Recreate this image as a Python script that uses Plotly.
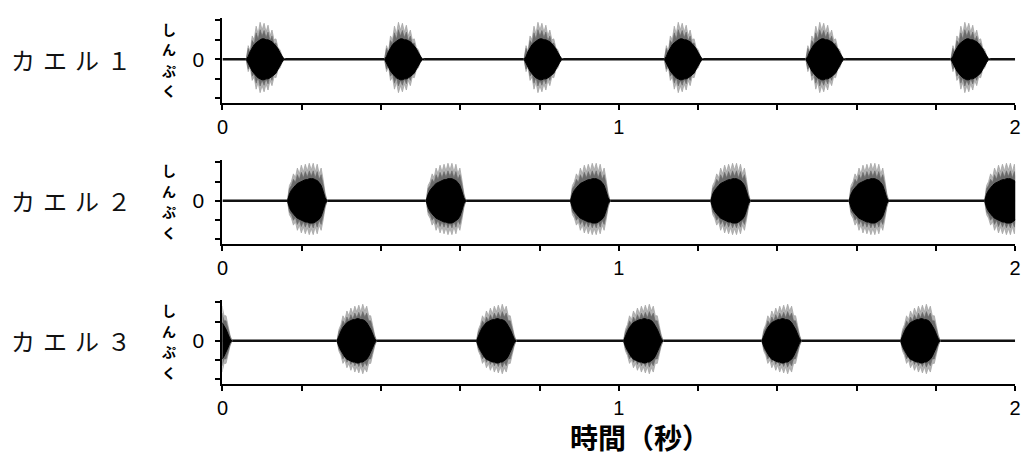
import plotly.graph_objects as go

# ---------------- data ----------------
frog_labels = ["カエル１", "カエル２", "カエル３"]
amp_label = ["し", "ん", "ぷ", "く"]
x_title = "時間（秒）"
x_tick_values = [0, 1, 2]
x_tick_labels = ["0", "1", "2"]
y_tick_values = [0]
y_tick_labels = ["0"]

# centre time (s) of each call burst, per frog
burst_times_1 = [0.110, 0.459, 0.811, 1.165, 1.522, 1.888]
burst_times_2 = [0.214, 0.564, 0.928, 1.282, 1.631, 1.973]
burst_times_3 = [-0.026, 0.339, 0.691, 1.062, 1.411, 1.761]

# envelope sample offsets from the burst centre (s)
env_offsets = [-0.050, -0.045, -0.040, -0.035, -0.030, -0.025, -0.020,
               -0.015, -0.010, -0.005, 0.000, 0.005, 0.010, 0.015,
               0.020, 0.025, 0.030, 0.035, 0.040, 0.045, 0.050]

# amplitude envelopes (outer = grey spike tips, core = dense black part)
outer_1 = [0.0, 0.7, 0.4, 1.2, 1.0, 1.7, 1.3, 1.9, 1.5, 1.85, 1.4,
           1.75, 1.2, 1.5, 1.0, 1.05, 0.6, 0.5, 0.2, 0.05, 0.0]
core_1 = [0.0, 0.15, 0.4, 0.6, 0.75, 0.85, 0.95, 1.0, 1.05, 1.05, 1.0,
          1.0, 0.95, 0.9, 0.8, 0.7, 0.55, 0.35, 0.15, 0.0, 0.0]
outer_2 = [0.0, 0.8, 1.0, 1.4, 1.2, 1.7, 1.4, 1.85, 1.5, 1.9, 1.55,
           1.95, 1.6, 1.95, 1.5, 1.9, 1.4, 1.7, 1.1, 0.4, 0.0]
core_2 = [0.0, 0.35, 0.55, 0.7, 0.8, 0.9, 0.95, 1.0, 1.05, 1.1, 1.1,
          1.15, 1.15, 1.15, 1.1, 1.05, 0.95, 0.8, 0.5, 0.15, 0.0]
outer_3 = [0.0, 0.6, 0.85, 1.3, 1.1, 1.55, 1.3, 1.7, 1.4, 1.8, 1.5,
           1.85, 1.5, 1.9, 1.55, 1.8, 1.3, 1.3, 0.8, 0.3, 0.0]
core_3 = [0.0, 0.3, 0.5, 0.7, 0.85, 0.95, 1.0, 1.05, 1.1, 1.1, 1.15,
          1.15, 1.1, 1.1, 1.05, 0.95, 0.8, 0.6, 0.35, 0.1, 0.0]

x_range = [0, 2]
y_range = [-2.24, 2.12]

# ---------------- styling ----------------
W, H = 1034, 458
JP = "Noto Sans CJK JP"
NUM = "Liberation Sans, Arial, sans-serif"
x_left_px, x_right_px = 219, 1021
panel_px = [(18, 103), (160, 244), (300, 384)]   # (top, bottom) of each panel in px
lower_scale = 0.9
mid_scale = 0.8
amp_pitch_px = 20.5

fig = go.Figure()

frogs = [
    (burst_times_1, outer_1, core_1),
    (burst_times_2, outer_2, core_2),
    (burst_times_3, outer_3, core_3),
]

def envelope(t, amps, scale_up, scale_low):
    xs = [t + o for o in env_offsets] + [t + o for o in reversed(env_offsets)]
    ys = [a * scale_up for a in amps] + [-a * scale_low for a in reversed(amps)]
    return xs, ys

for i, (times, outer, core) in enumerate(frogs):
    ax = "" if i == 0 else str(i + 1)
    xa, ya = "x" + ax, "y" + ax
    # baseline (quiet signal)
    fig.add_trace(go.Scatter(x=x_range, y=[0, 0], mode="lines",
                             line=dict(color="#111111", width=2.5),
                             xaxis=xa, yaxis=ya, hoverinfo="skip", showlegend=False))
    for t in times:
        xs, ys = envelope(t, outer, 1.0, lower_scale)
        fig.add_trace(go.Scatter(x=xs, y=ys, mode="lines", fill="toself",
                                 fillcolor="#b4b4b4", line=dict(color="#a6a6a6", width=0.8),
                                 xaxis=xa, yaxis=ya, hoverinfo="skip", showlegend=False))
        xs, ys = envelope(t, outer, mid_scale, mid_scale * lower_scale)
        fig.add_trace(go.Scatter(x=xs, y=ys, mode="lines", fill="toself",
                                 fillcolor="#6a6a6a", line=dict(color="#6a6a6a", width=0.6),
                                 xaxis=xa, yaxis=ya, hoverinfo="skip", showlegend=False))
        xs, ys = envelope(t, core, 1.0, 1.0)
        fig.add_trace(go.Scatter(x=xs, y=ys, mode="lines", fill="toself",
                                 fillcolor="#000000", line=dict(color="#000000", width=1),
                                 xaxis=xa, yaxis=ya, hoverinfo="skip", showlegend=False))

layout = dict(
    width=W, height=H,
    margin=dict(l=0, r=0, t=0, b=0),
    paper_bgcolor="white", plot_bgcolor="white",
    showlegend=False,
)

annotations = []
for i in range(3):
    ax = "" if i == 0 else str(i + 1)
    top, bot = panel_px[i]
    ydom = [1 - bot / H, 1 - top / H]
    layout["xaxis" + ax] = dict(
        domain=[x_left_px / W, x_right_px / W], range=x_range,
        anchor="y" + ax, showline=True, linecolor="black", linewidth=2,
        showgrid=False, zeroline=False, mirror=False,
        tickmode="array", tickvals=x_tick_values, ticktext=x_tick_labels,
        ticks="outside", ticklen=5, tickwidth=2, tickcolor="black",
        minor=dict(dtick=0.2, ticks="outside", ticklen=5, tickwidth=2, tickcolor="black"),
        tickfont=dict(family=NUM, size=20, color="black"),
        ticklabelstandoff=0,
    )
    layout["yaxis" + ax] = dict(
        domain=ydom, range=y_range,
        anchor="x" + ax, showline=True, linecolor="black", linewidth=2,
        showgrid=False, zeroline=False,
        tickmode="array", tickvals=y_tick_values, ticktext=y_tick_labels,
        ticks="outside", ticklen=5, tickwidth=2, tickcolor="black",
        minor=dict(dtick=1, ticks="outside", ticklen=5, tickwidth=2, tickcolor="black"),
        tickfont=dict(family=NUM, size=21, color="black"),
        ticklabelstandoff=7,
    )
    annotations.append(dict(
        text=frog_labels[i].replace("", "\u2004").strip("\u2004"),
        xref="paper", yref="y" + ax, x=3 / W, y=0,
        xanchor="left", yanchor="middle", showarrow=False,
        font=dict(family=JP, size=24, color="#111111"),
    ))
    # vertical (stacked) axis caption
    n = len(amp_label)
    for k, ch in enumerate(amp_label):
        annotations.append(dict(
            text=ch,
            xref="paper", yref="y" + ax, x=165 / W, y=0,
            yshift=((n - 1) / 2 - k) * amp_pitch_px,
            xanchor="center", yanchor="middle", showarrow=False,
            font=dict(family=JP, size=14, color="black", weight="bold"),
        ))

annotations.append(dict(
    text="<b>" + x_title + "</b>",
    xref="paper", yref="paper", x=641 / W, y=0,
    xanchor="center", yanchor="bottom", showarrow=False, borderpad=0,
    font=dict(family=JP, size=28, color="black"),
))
layout["annotations"] = annotations

fig.update_layout(**layout)
fig.write_html("out.html", config={"displayModeBar": False},
               post_script="document.body.style.margin='0px';")
